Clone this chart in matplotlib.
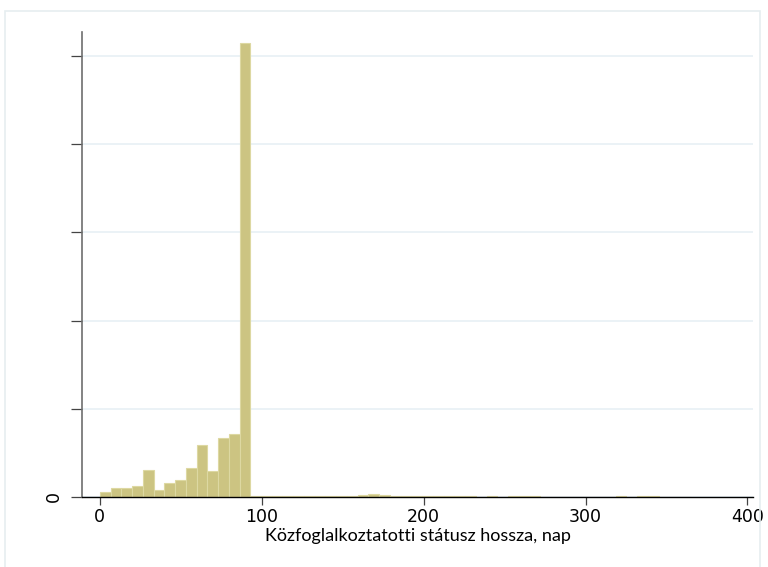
import numpy as np
import matplotlib.pyplot as plt
from matplotlib.patches import Rectangle

# hisztogram: 55 egyforma szélességű osztály 0 és 365 nap között
bin_width = 365 / 55
heights = [
    0.053, 0.099, 0.106, 0.120, 0.307, 0.083, 0.159, 0.190, 0.326, 0.587,
    0.300, 0.667, 0.712, 5.150,
    0.012, 0.012, 0.012, 0.012, 0.012, 0.012, 0.012, 0.012, 0.012, 0.012,
    0.020, 0.032, 0.020, 0.012, 0.012, 0.012, 0.012, 0.012, 0.012, 0.012,
    0.012, 0.000, 0.012, 0.000, 0.012, 0.012, 0.012, 0.000, 0.000, 0.000,
    0.000, 0.000, 0.000, 0.000, 0.012, 0.000, 0.012, 0.012, 0.000, 0.000,
    0.000,
]
x_ticks = [0, 100, 200, 300, 400]
y_ticks = [0, 1, 2, 3, 4, 5]
y_labels = ['0', '', '', '', '', '']
xlabel = 'Közfoglalkoztatotti státusz hossza, nap'

edges = np.arange(len(heights)) * bin_width

fig = plt.figure(figsize=(7.68, 5.67), dpi=100)
fig.patches.append(Rectangle((5 / 768, -0.01), 755 / 768, 1 - 11 / 567 + 0.01,
                             transform=fig.transFigure, fill=False,
                             edgecolor='#e6eef0', linewidth=1.2))

ax = fig.add_axes([82 / 768, 1 - 497 / 567, (753 - 82) / 768, (497 - 32) / 567])
ax.bar(edges, heights, width=bin_width, align='edge',
       color='#ccc482', edgecolor='#ddd8a2', linewidth=0.8, zorder=2)

ax.set_xlim(-11, 403.4)
ax.set_ylim(0, 5.27)
ax.set_xticks(x_ticks)
ax.set_yticks(y_ticks)
ax.set_yticklabels(y_labels, rotation=90, va='center')
ax.yaxis.grid(True, color='#e8f0f5', linewidth=1.2, zorder=0)
ax.set_axisbelow(True)

for s in ['top', 'right']:
    ax.spines[s].set_visible(False)
ax.spines['left'].set_color('#6e6e6e')
ax.spines['left'].set_linewidth(1.2)
ax.spines['bottom'].set_color('black')
ax.spines['bottom'].set_linewidth(1.0)

ax.tick_params(axis='x', length=6, width=0.9, color='#444444', labelsize=12.5, pad=2)
ax.tick_params(axis='y', length=8, width=0.9, color='#444444', labelsize=12.5, pad=6)

ax.set_xlabel(xlabel, fontfamily='Lato', fontsize=13, labelpad=1)

fig.savefig('out.png', dpi=100)
